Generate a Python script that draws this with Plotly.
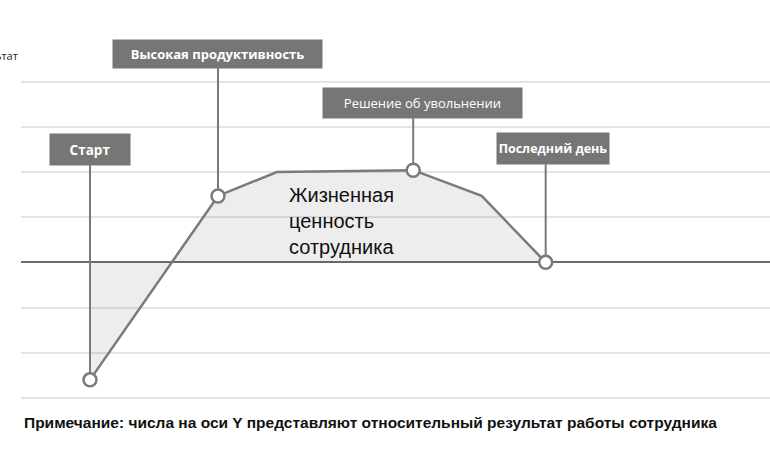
import plotly.graph_objects as go

# ---- data ----
x_vals = [0, 2, 2.92, 5.05, 6.12, 7.12]
y_vals = [-2.6, 1.47, 2.0, 2.04, 1.47, 0]
marker_idx = [0, 1, 3, 5]
label_texts = ["Старт", "Высокая продуктивность", "Решение об увольнении", "Последний день"]
label_idx = [0, 1, 3, 5]
center_text = ["Жизненная", "ценность", "сотрудника"]
y_title = "Результат"
note = "Примечание: числа на оси Y представляют относительный результат работы сотрудника"
y_ticks = [-3, -2, -1, 0, 1, 2, 3, 4]

# ---- style (box geometry relative to points, in px) ----
box_style = [
    dict(w=80, h=31, dx=0, dy=230.5, bold=True, size=13.5),
    dict(w=209, h=28, dx=0, dy=142, bold=True, size=13),
    dict(w=199, h=30, dx=9.5, dy=67, bold=False, size=13),
    dict(w=112, h=31, dx=7.5, dy=113.5, bold=True, size=12.5),
]
BOX = "#767676"
LINE = "#7a7a7a"

fig = go.Figure()
fig.add_trace(go.Scatter(x=x_vals, y=y_vals, mode="lines", fill="tozeroy",
                         fillcolor="rgba(110,110,110,0.12)", line=dict(color=LINE, width=2.5),
                         hoverinfo="skip", showlegend=False))
fig.add_trace(go.Scatter(x=[x_vals[i] for i in marker_idx], y=[y_vals[i] for i in marker_idx],
                         mode="markers", marker=dict(size=13, color="white", line=dict(color=LINE, width=2.5)),
                         hoverinfo="skip", showlegend=False))

shapes = []
annotations = []
for txt, i, st in zip(label_texts, label_idx, box_style):
    shapes.append(dict(type="line", xref="x", yref="y", ysizemode="pixel", yanchor=y_vals[i],
                       x0=x_vals[i], x1=x_vals[i], y0=7, y1=st["dy"] - st["h"] / 2,
                       line=dict(color=LINE, width=2), layer="above"))
    t = f"<b>{txt}</b>" if st["bold"] else txt
    annotations.append(dict(x=x_vals[i], y=y_vals[i], xref="x", yref="y", text=t, showarrow=False,
                            xshift=st["dx"], yshift=st["dy"], width=st["w"], height=st["h"],
                            bgcolor=BOX, borderpad=0, align="center", valign="middle",
                            font=dict(family="Open Sans", size=st["size"], color="white")))

annotations.append(dict(x=0.355, y=0.546, xref="paper", yref="paper", xanchor="left", yanchor="middle",
                        text="<br>".join(center_text), showarrow=False, align="left",
                        font=dict(family="Liberation Sans", size=20, color="#111111")))
annotations.append(dict(x=(20 - 21) / 749, y=(416 - 55) / 357, xref="paper", yref="paper",
                        xanchor="right", yanchor="middle", text=y_title, showarrow=False,
                        font=dict(family="Open Sans", size=11, color="#222222")))
annotations.append(dict(x=(22 - 21) / 749, y=(416 - 422) / 357, xref="paper", yref="paper",
                        xanchor="left", yanchor="middle", text=f"<b>{note}</b>", showarrow=False,
                        font=dict(family="Liberation Sans", size=15.5, color="#111111")))

fig.update_layout(
    width=770, height=460, margin=dict(l=21, r=0, t=59, b=44, autoexpand=False),
    plot_bgcolor="white", paper_bgcolor="white",
    shapes=shapes, annotations=annotations,
    xaxis=dict(range=[-1.078, 10.625], visible=False, showgrid=False, zeroline=False),
    yaxis=dict(range=[-3.4, 4.5], tickvals=y_ticks, showticklabels=False, showgrid=True,
               gridcolor="#e4e4e4", gridwidth=2, zeroline=True, zerolinecolor="#6a6a6a",
               zerolinewidth=2, showline=False, automargin=False),
)
fig.write_html("out.html", config={"displayModeBar": False},
               post_script="document.body.style.margin='0';document.body.style.overflow='hidden';")
